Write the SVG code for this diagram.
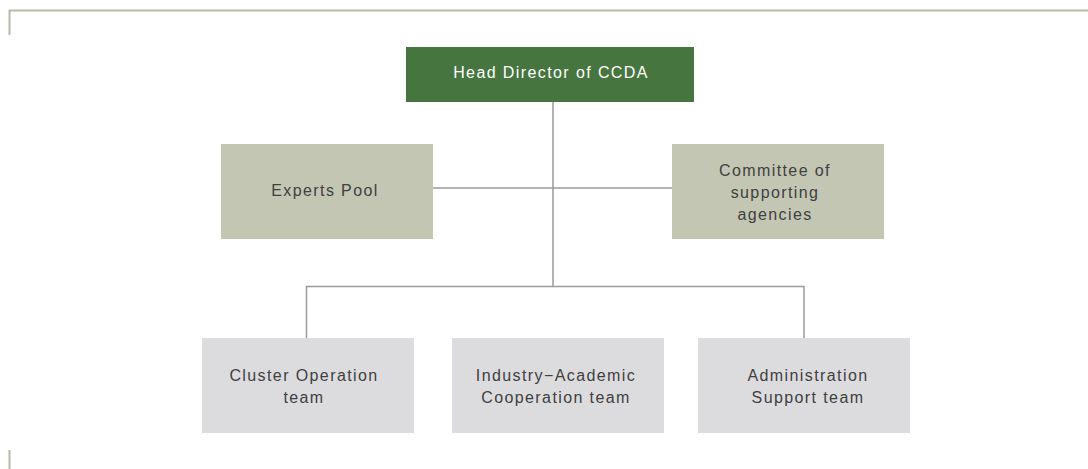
<svg xmlns="http://www.w3.org/2000/svg" width="1088" height="469" viewBox="0 0 1088 469">
<style>
text{font-family:"Liberation Sans",Arial,sans-serif;font-size:16px;fill:#404040;text-anchor:middle;letter-spacing:1.4px}
.frame{stroke:#b3bba6;stroke-width:2;fill:none}
.conn{stroke:#9a9a9a;stroke-width:1.5;fill:none}
.head{fill:#467540}
.side{fill:#c3c6b3}
.team{fill:#dcdcde}
</style>
<rect width="1088" height="469" fill="#ffffff"/>
<path class="frame" d="M9.5,35 V10.5 H1088"/>
<path class="frame" d="M9.5,450 V469"/>
<g id="connectors">
<path class="conn" d="M553,102 V286"/>
<path class="conn" d="M433,188 H672"/>
<path class="conn" d="M306.5,338 V286.5 H804 V338"/>
</g>
<g id="head"><rect class="head" x="406" y="47" width="288" height="55"/><text x="551" y="78" style="fill:#ffffff">Head Director of CCDA</text></g>
<g id="experts"><rect class="side" x="221" y="144" width="212" height="95"/><text x="325" y="196">Experts Pool</text></g>
<g id="committee"><rect class="side" x="672" y="144" width="212" height="95"/><text x="775" y="176">Committee of</text><text x="775" y="198">supporting</text><text x="775" y="220">agencies</text></g>
<g id="cluster"><rect class="team" x="202" y="338" width="212" height="95"/><text x="304" y="381">Cluster Operation</text><text x="304" y="403">team</text></g>
<g id="industry"><rect class="team" x="452" y="338" width="212" height="95"/><text x="556" y="381">Industry−Academic</text><text x="556" y="403">Cooperation team</text></g>
<g id="admin"><rect class="team" x="698" y="338" width="212" height="95"/><text x="808" y="381">Administration</text><text x="808" y="403">Support team</text></g>
</svg>
